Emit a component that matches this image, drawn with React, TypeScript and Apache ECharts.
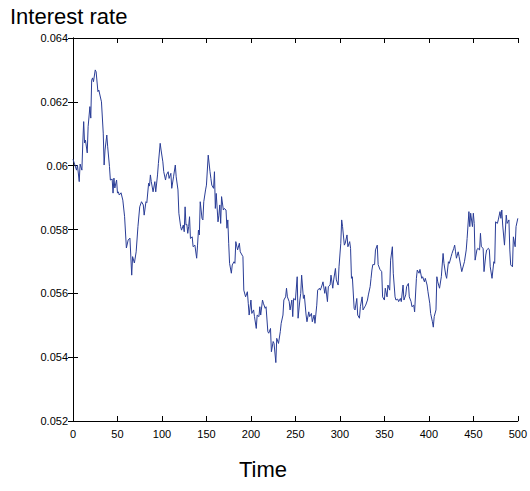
import React, { useEffect, useRef } from "react";
import * as echarts from "echarts";

const xTicks = { min: 0, max: 500, interval: 50 };
const yTicks = { min: 0.052, max: 0.064, interval: 0.002 };
const yTitle = "Interest rate";
const xTitle = "Time";

const segA: [number, number][] = [
  [0, 0.0602], [4, 0.05986], [5, 0.06002], [7, 0.0595], [8, 0.06005], [10, 0.05986], [11, 0.06071], [12, 0.06138],
  [13, 0.06071], [14, 0.0608], [16, 0.0604], [17, 0.06122], [19, 0.06185], [20, 0.06149], [21, 0.06268], [22, 0.06275],
  [23, 0.06263], [25, 0.063], [26, 0.06294], [28, 0.06232], [29, 0.06237], [32, 0.062], [34, 0.06102], [35, 0.06002],
  [36, 0.06049], [38, 0.06096], [39, 0.06059], [41, 0.05997], [42, 0.05955], [44, 0.05958], [45, 0.05914], [46, 0.05961],
  [47, 0.0593], [49, 0.05955], [50, 0.05914], [51, 0.05918], [52, 0.05908], [54, 0.05915], [56, 0.05892], [58, 0.0584],
  [60, 0.05742], [62, 0.05767], [64, 0.05773], [66, 0.05657], [67, 0.05715], [69, 0.05695], [71, 0.0573], [73, 0.05809],
  [75, 0.05871], [77, 0.05887], [79, 0.05877], [80, 0.05845], [82, 0.05887], [83, 0.05884], [85, 0.05945], [86, 0.05936],
];

const segB: [number, number][] = [
  [87, 0.05971], [88, 0.0595], [90, 0.05918], [92, 0.0595], [93, 0.05918], [95, 0.05971], [96, 0.06007], [98, 0.0607],
  [99, 0.06049], [101, 0.06012], [102, 0.05981], [104, 0.05955], [105, 0.05971], [107, 0.05981], [108, 0.0596], [110, 0.05976],
  [111, 0.05929], [113, 0.05965], [115, 0.06002], [116, 0.05965], [118, 0.05924], [119, 0.05851], [121, 0.05809], [122, 0.05798],
  [124, 0.05814], [125, 0.05793], [126, 0.05871], [127, 0.05814], [128, 0.05816], [129, 0.05788], [130, 0.05809], [131, 0.0584],
  [132, 0.05772], [134, 0.05777], [135, 0.05746], [137, 0.05751], [139, 0.0571], [140, 0.05751], [141, 0.05798], [142, 0.05783],
  [143, 0.05887], [145, 0.05835], [146, 0.0583], [147, 0.05887], [149, 0.05924], [150, 0.05939], [152, 0.06033], [154, 0.05981],
  [155, 0.0596], [156, 0.05939], [158, 0.05929], [159, 0.05981], [160, 0.05866], [161, 0.05913], [163, 0.05824], [164, 0.05845],
  [165, 0.05877], [166, 0.05819], [167, 0.05903], [169, 0.05861], [170, 0.05866], [172, 0.05861],
];

const segC: [number, number][] = [
  [173, 0.05804], [174, 0.0583], [175, 0.05757], [176, 0.05694], [178, 0.05663], [179, 0.05689], [181, 0.05699], [182, 0.05694],
  [183, 0.05762], [185, 0.05736], [187, 0.05757], [188, 0.0573], [190, 0.0572], [191, 0.05715], [192, 0.0561], [194, 0.05589],
  [196, 0.05605], [197, 0.05569], [198, 0.05532], [200, 0.05579], [201, 0.05537], [203, 0.05548], [204, 0.05527], [206, 0.0549],
  [207, 0.05532], [209, 0.05527], [210, 0.05558], [211, 0.05532], [213, 0.05579], [214, 0.05569], [216, 0.05553], [217, 0.05558],
  [219, 0.0548], [220, 0.05475], [222, 0.0549], [223, 0.05417], [225, 0.05449], [226, 0.05443], [228, 0.05383], [229, 0.05459],
  [231, 0.05443], [233, 0.0548], [234, 0.05506], [236, 0.05532], [237, 0.05579], [239, 0.05589], [240, 0.05616], [241, 0.05589],
  [243, 0.05574], [244, 0.05548], [246, 0.05579], [247, 0.05527], [248, 0.05584], [250, 0.05579], [252, 0.05652], [253, 0.05522],
  [255, 0.05579], [256, 0.056],
];

const segD: [number, number][] = [
  [257, 0.05657], [259, 0.05584], [260, 0.05595], [262, 0.05532], [263, 0.05511], [265, 0.05542], [266, 0.05527], [268, 0.05537],
  [269, 0.05511], [271, 0.05532], [272, 0.05506], [274, 0.05563], [275, 0.0561], [277, 0.05616], [278, 0.0561], [280, 0.05626],
  [281, 0.05636], [283, 0.056], [284, 0.05621], [286, 0.05574], [287, 0.05621], [289, 0.05626], [290, 0.05657], [292, 0.05616],
  [293, 0.05642], [295, 0.05678], [296, 0.05642], [298, 0.05626], [299, 0.05683], [301, 0.05757], [302, 0.0583], [303, 0.05809],
  [305, 0.05751], [306, 0.05757], [308, 0.05783], [309, 0.05746], [311, 0.05762], [312, 0.05741], [313, 0.05647], [314, 0.05652],
  [316, 0.05553], [317, 0.05548], [319, 0.05584], [320, 0.05532], [322, 0.05522], [323, 0.05558], [325, 0.05589], [326, 0.05548],
  [328, 0.05558], [329, 0.05563], [331, 0.05579], [332, 0.05595], [334, 0.05621], [335, 0.05647], [336, 0.05673], [337, 0.0569],
  [339, 0.0569], [340, 0.05736], [342, 0.05751], [343, 0.0569], [345, 0.05675],
];

const segE: [number, number][] = [
  [347, 0.05668], [348, 0.05589], [350, 0.05579], [351, 0.05616], [353, 0.05589], [354, 0.05626], [356, 0.0561], [357, 0.05704],
  [359, 0.05746], [360, 0.05663], [362, 0.05589], [363, 0.05579], [365, 0.05582], [366, 0.05574], [368, 0.05584], [369, 0.05574],
  [371, 0.05626], [372, 0.05579], [374, 0.05595], [375, 0.05621], [377, 0.05631], [378, 0.05589], [380, 0.05574], [381, 0.05558],
  [383, 0.05563], [384, 0.05542], [386, 0.05647], [387, 0.05673], [389, 0.05663], [390, 0.05675], [392, 0.05647], [393, 0.05652],
  [395, 0.05636], [396, 0.05647], [398, 0.05626], [399, 0.05605], [401, 0.05569], [402, 0.05537], [404, 0.05511], [405, 0.05494],
  [406, 0.05527], [408, 0.05548], [409, 0.05652], [410, 0.05636], [412, 0.05616], [414, 0.05652], [416, 0.05725], [417, 0.05694],
  [419, 0.05657], [420, 0.05647], [422, 0.05699], [423, 0.05694], [425, 0.05715], [426, 0.05725], [428, 0.05741], [429, 0.05751],
];

const segF: [number, number][] = [
  [430, 0.0573], [431, 0.0571], [433, 0.0573], [434, 0.05715], [436, 0.05683], [437, 0.05668], [439, 0.05689], [440, 0.05699],
  [442, 0.05736], [443, 0.05772], [445, 0.05856], [446, 0.05809], [447, 0.05851], [449, 0.05809], [450, 0.05851], [451, 0.05819],
  [452, 0.05704], [454, 0.05736], [455, 0.05741], [457, 0.05736], [458, 0.05788], [459, 0.05746], [461, 0.05741], [462, 0.05668],
  [464, 0.0572], [465, 0.05736], [467, 0.05741], [468, 0.05736], [469, 0.05683], [471, 0.05647], [473, 0.05699], [474, 0.05694],
  [475, 0.05824], [477, 0.05819], [478, 0.0583], [480, 0.05856], [481, 0.05835], [482, 0.05861], [483, 0.05814], [485, 0.05751],
  [487, 0.05845], [488, 0.05819], [490, 0.0583], [491, 0.05736], [492, 0.05689], [494, 0.05683], [495, 0.05777], [497, 0.05746],
  [498, 0.05809], [500, 0.05835],
];

const rateData = [...segA, ...segB, ...segC, ...segD, ...segE, ...segF];

const FONT = "'Liberation Sans', Arial, sans-serif";

export default function App() {
  const ref = useRef<HTMLDivElement>(null);
  useEffect(() => {
    document.body.style.margin = "0";
    if (!ref.current) return;
    const chart = echarts.init(ref.current, null, { renderer: "svg" });
    const axisLine = { show: true, lineStyle: { color: "#000", width: 1 } };
    const tick = { show: true, inside: true, length: 5, lineStyle: { color: "#000", width: 1 } };
    const label = { color: "#000", fontSize: 11, fontFamily: FONT };
    chart.setOption({
      animation: false,
      backgroundColor: "#fff",
      grid: { left: 73, right: 12, top: 38, bottom: 70, containLabel: false },
      xAxis: [
        {
          type: "value", position: "bottom", ...xTicks,
          axisLine, axisTick: tick, splitLine: { show: false },
          axisLabel: { ...label, margin: 7 },
        },
        {
          type: "value", position: "top", ...xTicks,
          axisLine, axisTick: tick, splitLine: { show: false },
          axisLabel: { show: false },
        },
      ],
      yAxis: [
        {
          type: "value", position: "left", ...yTicks,
          axisLine, axisTick: tick, splitLine: { show: false },
          axisLabel: { ...label, margin: 5, formatter: (v: number) => String(parseFloat(v.toFixed(3))) },
        },
        {
          type: "value", position: "right", ...yTicks,
          axisLine, axisTick: tick, splitLine: { show: false },
          axisLabel: { show: false },
        },
      ],
      graphic: [
        {
          type: "text", left: 10, top: 5,
          style: { text: yTitle, fontSize: 22, fontFamily: FONT, fill: "#000" },
        },
        {
          type: "text", x: 263, y: 458,
          style: { text: xTitle, fontSize: 22, fontFamily: FONT, fill: "#000", align: "center", verticalAlign: "top" },
        },
      ],
      series: [
        {
          type: "line", data: rateData, xAxisIndex: 0, yAxisIndex: 0,
          showSymbol: false, symbol: "none",
          lineStyle: { color: "#2a3d96", width: 1 },
        },
      ],
    });
    return () => chart.dispose();
  }, []);
  return <div ref={ref} style={{ width: 530, height: 491 }} />;
}
